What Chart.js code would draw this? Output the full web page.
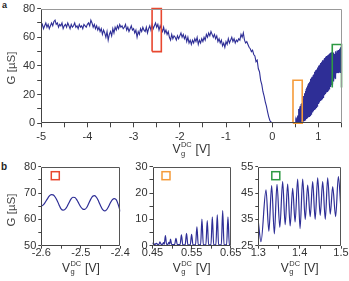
<!DOCTYPE html>
<html>
<head>
<meta charset="utf-8">
<script src="https://cdn.jsdelivr.net/npm/chart.js@4.4.1/dist/chart.umd.min.js"></script>
<style>
body { margin: 0; background: #fff; width: 349px; height: 281px; overflow: hidden; position: relative; font-family: "Liberation Sans", Arial, sans-serif; }
canvas { position: absolute; }
.tag { position: absolute; font-weight: bold; font-size: 9px; color: #222; }
</style>
</head>
<body>
<div class="tag" style="left:2px;top:0px">a</div>
<div class="tag" style="left:1px;top:161px;font-size:10px">b</div>
<canvas id="pa" width="349" height="160" style="left:0;top:0"></canvas>
<canvas id="pb1" width="130" height="131" style="left:0;top:150px"></canvas>
<canvas id="pb2" width="122" height="131" style="left:125px;top:150px"></canvas>
<canvas id="pb3" width="114" height="131" style="left:235px;top:150px"></canvas>
<script>
// panel a: gate sweep, one reading every 0.025 V from -5 V up to 0.475 V
const sweepStart = -5, sweepStep = 0.025;
const sweepG = [
    67, 69, 66, 68, 70, 67, 69, 66, 68, 70,
    68, 71, 72, 69, 70, 67, 69, 68, 70, 66,
    68, 69, 67, 70, 68, 66, 69, 67, 68, 70,
    67, 68, 66, 69, 67, 68, 66, 69, 68, 67,
    69, 70, 68, 72, 70, 67, 69, 66, 68, 65,
    67, 64, 66, 62, 65, 63, 60, 64, 58, 62,
    64, 61, 66, 63, 67, 65, 68, 66, 69, 67,
    68, 66, 67, 69, 65, 67, 64, 66, 68, 65,
    66, 63, 65, 60, 64, 62, 66, 64, 67, 65,
    64, 67, 63, 66, 68, 65, 69, 66, 68, 70,
    67, 69, 65, 68, 66, 64, 67, 63, 65, 62,
    64, 60, 58, 62, 59, 61, 60, 58, 61, 59,
    61, 63, 60, 62, 59, 61, 57, 60, 56, 58,
    55, 58, 56, 59, 57, 60, 55, 58, 56, 59,
    57, 60, 58, 62, 60, 63, 61, 64, 62, 60,
    62, 59, 61, 57, 59, 56, 58, 54, 56, 53,
    57, 55, 59, 56, 58, 60, 57, 59, 56, 58,
    57, 59, 58, 62, 60, 63, 58, 56, 57, 55,
    53,
    52, 50, 51, 48, 47, 43, 44, 38, 36, 30, 27, 22, 19, 15, 12, 8, 4.5, 2, 0.8,
    0.6, 0.5, 0.6, 0.5, 0.4, 0.5, 0.6, 0.5, 0.5, 0.6, 0.4, 0.5, 0.6, 0.5, 0.5, 0.4, 0.6, 0.5, 0.5, 0.6
];
// above 0.5 V the oscillations are too fast to resolve: valleys at 0.50, 0.51 ... peaks at 0.505, 0.515 ...
const oscStart = 0.5, oscStep = 0.01;
const oscValley = [
    0.4, 0.3, 0.5, 0.4, 0.5, 0.4, 0.6, 0.5, 0.7, 0.6,
    0.8, 0.9, 1.0, 1.1, 1.3, 1.2, 1.5, 1.6, 1.8, 2.0,
    2.2, 2.4, 2.6, 2.5, 3.0, 3.3, 3.5, 3.8, 4.2, 4.5,
    4.8, 5.2, 5.5, 6.0, 6.3, 6.8, 7.0, 7.5, 8.0, 8.4,
    8.8, 9.3, 9.6, 10.2, 10.5, 11.0, 11.5, 12.0, 12.4, 13.0,
    13.5, 13.8, 14.5, 14.8, 15.5, 15.8, 16.4, 16.8, 17.2, 17.8,
    18.0, 18.6, 19.0, 19.5, 20.0, 20.4, 20.8, 21.4, 21.8, 22.2,
    22.6, 23.0, 23.6, 24.0, 24.5, 25.0, 25.4, 26.0, 26.5, 27.0,
    27.2, 30.5, 29.5, 32.0, 33.5, 32.5, 34.0, 31.0, 33.0, 35.0,
    36.0, 35.0, 36.5, 35.0, 37.0, 36.0, 36.5, 35.5, 37.0, 36.5, 38.5
];
const oscPeak = [
    1.5, 2.0, 3.5, 4.0, 3.8, 5.5, 7.0, 10.0, 9.0, 11.0,
    12.0, 11.5, 13.5, 14.0, 12.5, 16.0, 17.0, 16.5, 19.0, 20.0,
    21.0, 22.5, 21.5, 24.0, 25.0, 24.0, 26.0, 27.0, 26.5, 28.0,
    29.0, 28.5, 30.0, 31.0, 30.0, 32.0, 32.5, 31.5, 33.5, 34.0,
    33.5, 35.0, 36.0, 35.0, 37.0, 37.5, 36.5, 38.5, 39.0, 38.0,
    40.0, 40.5, 39.5, 41.0, 42.0, 41.0, 42.5, 43.0, 42.0, 44.0,
    44.0, 43.5, 45.0, 45.5, 44.5, 46.0, 46.5, 45.5, 47.0, 46.5,
    47.5, 48.0, 46.5, 48.5, 47.5, 49.0, 48.0, 49.5, 48.5, 49.0,
    46.2, 47.8, 48.3, 49.3, 48.4, 46.8, 50.3, 50.3, 48.0, 49.3,
    50.8, 49.3, 50.8, 47.4, 51.2, 52.0, 50.5, 53.0, 51.5, 52.5
];

// zoom windows marked on panel a
const boxX = [[-2.6, -2.4], [0.45, 0.65], [1.3, 1.5]];
const boxY = [[50, 80], [0, 30], [25, 55]];

// panel b, red window: every 0.005 V from -2.6 V
const redStart = -2.6, redStep = 0.005;
const redG = [
    65.0, 65.5, 66.5, 67.7, 68.8, 69.4, 69.3, 68.5, 67.2, 65.5,
    64.0, 63.5, 63.8, 64.8, 66.3, 67.7, 68.4, 68.3, 67.4, 66.0,
    64.7, 63.9, 63.8, 64.5, 66.0, 67.6, 68.8, 69.0, 68.3, 66.9,
    65.2, 63.8, 63.2, 63.6, 64.8, 66.3, 67.5, 67.9, 67.4, 65.5,
    63.0
];
// orange window: narrow peaks on a flat floor
const orangeV = [
    0.450, 0.4517, 0.455, 0.460, 0.464, 0.4665, 0.469, 0.472, 0.476, 0.478,
    0.480, 0.483, 0.486, 0.490, 0.492, 0.494, 0.496, 0.499, 0.5065, 0.510,
    0.5135, 0.5205, 0.524, 0.5275, 0.5335, 0.537, 0.5405, 0.5465, 0.550, 0.5535,
    0.560, 0.5636, 0.567, 0.573, 0.5764, 0.580, 0.5865, 0.590, 0.5935, 0.5995,
    0.603, 0.6065, 0.612, 0.6157, 0.619, 0.626, 0.6295, 0.633, 0.6395, 0.643,
    0.6465, 0.650
];
const orangeG = [
    0.6, 1.1, 0.4, 0.9, 0.4, 0.5, 1.5, 0.5, 0.6, 1.2,
    0.5, 3.8, 0.5, 0.6, 1.3, 0.6, 2.5, 0.5, 0.4, 2.8,
    0.4, 0.4, 4.1, 0.3, 0.3, 4.7, 0.3, 0.3, 4.3, 0.3,
    0.3, 7.2, 0.3, 0.3, 10.1, 0.3, 0.3, 9.5, 0.3, 0.3,
    11.0, 0.3, 0.3, 11.7, 0.3, 0.3, 13.3, 0.3, 0.3, 11.0,
    0.3, 0.6
];
// green window: peaks and valleys
const greenV = [1.300, 1.3065, 1.3186, 1.3255, 1.3323, 1.3388, 1.3452, 1.352, 1.3589, 1.365, 1.371, 1.377, 1.3831, 1.389, 1.3952, 1.401, 1.4073, 1.4135, 1.4194, 1.4255, 1.4315, 1.4375, 1.4436, 1.4497, 1.4557, 1.462, 1.4678, 1.474, 1.4799, 1.487, 1.4936, 1.500];
const greenG = [34.1, 26.5, 46.2, 30.5, 47.8, 29.5, 48.3, 32.0, 49.3, 33.0, 48.4, 32.5, 46.8, 34.0, 50.3, 31.5, 50.3, 35.0, 48.0, 36.0, 49.3, 35.0, 50.8, 36.5, 49.3, 35.0, 50.8, 37.0, 47.4, 36.0, 51.2, 38.5];

// tick labels
const aXLabels = ['-5', '-4', '-3', '-2', '-1', '0', '1'];
const aYLabels = ['0', '20', '40', '60', '80'];
const b1XLabels = ['-2.6', '-2.5', '-2.4'];
const b1YLabels = ['50', '60', '70', '80'];
const b2XLabels = ['0.45', '0.55', '0.65'];
const b2YLabels = ['0', '10', '20', '30'];
const b3XLabels = ['1.3', '1.4', '1.5'];
const b3YLabels = ['25', '35', '45', '55'];

const fam = "'Liberation Sans', Arial, sans-serif";
const lineColor = '#2e2e96';
const boxColors = ['#e8472f', '#f59b3a', '#2e9a43'];
Chart.defaults.font.family = fam;

const decor = {
    id: 'decor',
    afterDraw(chart, args, o) {
        const ctx = chart.ctx, a = chart.chartArea;
        const L = Math.round(a.left) + 0.5, R = Math.round(a.right) - 0.5;
        const T = Math.round(a.top) + 0.5, B = Math.round(a.bottom) - 0.5;
        ctx.save();
        ctx.lineWidth = 1;
        ctx.strokeStyle = o.boxColor;
        ctx.beginPath();
        ctx.moveTo(L, T); ctx.lineTo(R, T); ctx.lineTo(R, B);
        ctx.stroke();
        ctx.strokeStyle = '#444';
        ctx.beginPath();
        ctx.moveTo(L, T); ctx.lineTo(L, B); ctx.lineTo(R, B);
        ctx.stroke();

        // x title V_g^DC [V]
        ctx.fillStyle = '#333';
        ctx.textAlign = 'left';
        ctx.textBaseline = 'alphabetic';
        const big = '12px ' + fam, small = '7.5px ' + fam;
        ctx.font = big;
        const wV = ctx.measureText('V').width, wU = ctx.measureText(' [V]').width;
        ctx.font = small;
        const wS = Math.max(ctx.measureText('DC').width, ctx.measureText('g').width) + 1;
        let x = (a.left + a.right) / 2 - (wV + wS + wU) / 2;
        const by = a.bottom + o.titleGap;
        ctx.font = big; ctx.fillText('V', x, by); x += wV;
        ctx.font = small;
        ctx.fillText('DC', x + 0.5, by - 6);
        ctx.fillText('g', x + 0.5, by + 2.5);
        x += wS;
        ctx.font = big; ctx.fillText(' [V]', x, by);

        if (o.yTitle) {
            ctx.save();
            ctx.translate(o.yTitleX, o.yTitleY);
            ctx.rotate(-Math.PI / 2);
            ctx.textAlign = 'center';
            ctx.textBaseline = 'middle';
            ctx.font = '11.5px ' + fam;
            ctx.fillStyle = '#444';
            ctx.fillText('G [µS]', 0, 0);
            ctx.restore();
        }
        if (o.marker) {
            ctx.strokeStyle = o.marker;
            ctx.lineWidth = 1.5;
            ctx.strokeRect(a.left + o.mx, a.top + o.my, 8, 8);
        }
        ctx.restore();
    }
};

function pickLabel(labels) {
    return function (v) {
        const hit = labels.find(function (s) { return Math.abs(parseFloat(s) - v) < 1e-6; });
        return hit === undefined ? '' : hit;
    };
}

function axis(min, max, step, labels, fit, tick, pad) {
    return {
        type: 'linear', min: min, max: max,
        ticks: {
            stepSize: step, callback: pickLabel(labels), autoSkip: false, maxRotation: 0,
            padding: pad, color: '#333', font: { size: 11 }
        },
        grid: { drawOnChartArea: false, drawTicks: true, tickLength: tick, color: '#444' },
        border: { display: false },
        afterFit: fit
    };
}

function makePanel(id, datasets, xs, ys, pad, decorOpts) {
    return new Chart(document.getElementById(id), {
        type: 'line',
        data: { datasets: datasets },
        options: {
            responsive: false, animation: false, devicePixelRatio: 1,
            parsing: false, normalized: true,
            layout: { autoPadding: false, padding: { left: 0, right: pad.right, top: pad.top, bottom: 0 } },
            plugins: { legend: { display: false }, tooltip: { enabled: false }, decor: decorOpts },
            elements: { point: { radius: 0 } },
            scales: {
                x: axis(xs[0], xs[1], xs[2], xs[3], function (s) { s.height = pad.xh; }, pad.tick, pad.xpad),
                y: axis(ys[0], ys[1], ys[2], ys[3], function (s) { s.width = pad.yw; }, pad.tick, 2)
            }
        },
        plugins: [decor]
    });
}

// panel a data
const mainPts = sweepG.map(function (g, i) { return { x: sweepStart + i * sweepStep, y: g }; });
oscValley.forEach(function (g, k) {
    mainPts.push({ x: oscStart + k * oscStep, y: g });
    if (k < oscPeak.length) mainPts.push({ x: oscStart + k * oscStep + oscStep / 2, y: oscPeak[k] });
});
const boxSets = boxX.map(function (bx, i) {
    const by = boxY[i];
    return {
        data: [{ x: bx[0], y: by[0] }, { x: bx[0], y: by[1] }, { x: bx[1], y: by[1] }, { x: bx[1], y: by[0] }, { x: bx[0], y: by[0] }],
        borderColor: boxColors[i], borderWidth: 1.6, clip: false, tension: 0
    };
});

makePanel('pa',
    boxSets.concat([{ data: mainPts, borderColor: lineColor, borderWidth: 1.1, tension: 0 }]),
    [-5, 1.5, 0.5, aXLabels], [0, 80, 10, aYLabels],
    { yw: 41.2, right: 7.5, top: 5, xh: 36.7, tick: 4, xpad: 3 },
    { boxColor: '#999', titleGap: 30, yTitle: true, yTitleX: 12, yTitleY: 68 });

makePanel('pb1',
    [{ data: redG.map(function (g, i) { return { x: redStart + i * redStep, y: g }; }), borderColor: lineColor, borderWidth: 1.2, cubicInterpolationMode: 'monotone' }],
    [-2.6, -2.4, 0.05, b1XLabels], [50, 80, 5, b1YLabels],
    { yw: 41.3, right: 9.7, top: 16.7, xh: 35.3, tick: 3, xpad: -2 },
    { boxColor: '#555', titleGap: 26, yTitle: true, yTitleX: 12, yTitleY: 60, marker: boxColors[0], mx: 10, my: 5 });

makePanel('pb2',
    [{ data: orangeV.map(function (v, i) { return { x: v, y: orangeG[i] }; }), borderColor: lineColor, borderWidth: 1.2, cubicInterpolationMode: 'monotone' }],
    [0.45, 0.65, 0.05, b2XLabels], [0, 30, 5, b2YLabels],
    { yw: 27.5, right: 16.3, top: 16.7, xh: 35.3, tick: 3, xpad: -2 },
    { boxColor: '#555', titleGap: 26, marker: boxColors[1], mx: 9.5, my: 5 });

makePanel('pb3',
    [{ data: greenV.map(function (v, i) { return { x: v, y: greenG[i] }; }), borderColor: lineColor, borderWidth: 1.2, cubicInterpolationMode: 'monotone' }],
    [1.3, 1.5, 0.05, b3XLabels], [25, 55, 5, b3YLabels],
    { yw: 23.3, right: 8, top: 16.7, xh: 35.3, tick: 3, xpad: -2 },
    { boxColor: '#555', titleGap: 26, marker: boxColors[2], mx: 13.5, my: 5 });
</script>
</body>
</html>
